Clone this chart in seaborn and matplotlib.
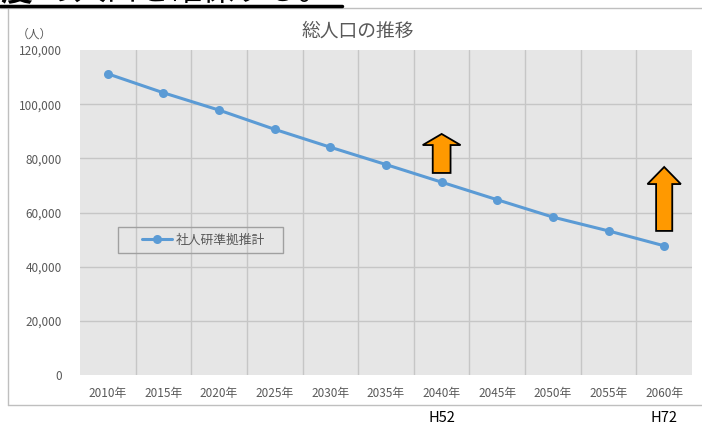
import matplotlib.pyplot as plt
import matplotlib.patches as mpatches
from matplotlib.lines import Line2D
import matplotlib.transforms as mtransforms
import pandas as pd
import seaborn as sns

# data
years = ["2010年", "2015年", "2020年", "2025年", "2030年", "2035年",
         "2040年", "2045年", "2050年", "2055年", "2060年"]
population = [111200, 104200, 97800, 90700, 84100, 77700,
              71200, 64700, 58300, 53200, 47700]
series_name = "社人研準拠推計"
y_ticks = [0, 20000, 40000, 60000, 80000, 100000, 120000]
heisei_labels = {"2040年": "H52", "2060年": "H72"}

sns.set_theme(style="white")
plt.rcParams['font.family'] = ['Noto Sans CJK JP', 'DejaVu Sans']

gray_txt = "#595959"
line_col = "#5B9BD5"

df = pd.DataFrame({"pos": range(len(years)), "year": years, "pop": population})

fig = plt.figure(figsize=(7.02, 4.25), dpi=100)
ax = fig.add_axes([80/702, 1-375/425, 612/702, 325/425])
ax.set_facecolor("#E6E6E6")

# grid lines between categories and at interior y ticks
for b in range(len(years) - 1):
    ax.axvline(b + 0.5, color="#C6C6C6", lw=1, zorder=0)
for t in y_ticks[1:-1]:
    ax.axhline(t, color="#C6C6C6", lw=1, zorder=0)

sns.lineplot(data=df, x="pos", y="pop", ax=ax, color=line_col, lw=2.2,
             marker="o", markersize=6.5, markeredgewidth=0, label=series_name,
             zorder=3)

ax.set_xlim(-0.5, len(years) - 0.5)
ax.set_ylim(0, 120000)
ax.set_xticks(range(len(years)))
ax.set_xticklabels(years)
ax.set_yticks(y_ticks)
ax.set_yticklabels([f"{v:,}" for v in y_ticks])
ax.tick_params(axis="both", length=0, labelsize=8.5, labelcolor=gray_txt)
ax.tick_params(axis="x", pad=9)
ax.tick_params(axis="y", pad=13)
ax.set_xlabel("")
ax.set_ylabel("")
for s in ax.spines.values():
    s.set_visible(False)

# legend: separate frame so the handle can sit further in
ax.add_patch(mpatches.Rectangle((38/612, 1-203/325), 165/612, 26/325,
                                transform=ax.transAxes, facecolor="none",
                                edgecolor="#A0A0A0", lw=1, zorder=4))
leg = ax.legend(loc="center left", bbox_to_anchor=(62/612, 1-190/325),
                frameon=False, fontsize=9.2, handlelength=2.35,
                handletextpad=0.3, borderpad=0, borderaxespad=0)
for txt in leg.get_texts():
    txt.set_color(gray_txt)

# orange up arrows
for xc, y0, y1, w, hw, hl in [(6, 74600, 89000, 0.32, 0.68, 4100),
                              (10, 53200, 76800, 0.29, 0.6, 6300)]:
    arr = mpatches.FancyArrow(xc, y0, 0, y1 - y0, width=w, head_width=hw,
                              head_length=hl, length_includes_head=True,
                              facecolor="#FF9900", edgecolor="black", lw=1.3,
                              zorder=5)
    ax.add_patch(arr)

# chart title and unit
fig.text(358/702, 1-31/425, "総人口の推移", ha="center", va="center",
         fontsize=13.5, color=gray_txt)
fig.text(34/702, 1-34/425, "（人）", ha="center", va="center",
         fontsize=8.5, color=gray_txt)

# H labels below the chart
trans = mtransforms.blended_transform_factory(ax.transData, fig.transFigure)
for i, y in enumerate(years):
    if y in heisei_labels:
        fig.text(i, 1-418/425, heisei_labels[y], ha="center", va="center",
                 fontsize=10.5, color="black", transform=trans)

# chart frame
fig.add_artist(Line2D([8/702, 8/702], [1-405/425, 1-8/425], color="#BFBFBF",
                      lw=1, transform=fig.transFigure))
fig.add_artist(Line2D([8/702, 1], [1-405/425, 1-405/425], color="#BFBFBF",
                      lw=1, transform=fig.transFigure))
fig.add_artist(Line2D([0, 1], [1-7.5/425, 1-7.5/425], color="#BFBFBF",
                      lw=1, transform=fig.transFigure))

# heading of the page above, cut off at the top edge as in the reference
fig.text(32/702, 1.0, "度", ha="right", va="baseline", fontsize=23,
         fontweight="bold", color="black")
fig.text(42/702, 1.0, "の人口を確保する。", ha="left", va="baseline",
         fontsize=23, color="black")
fig.add_artist(Line2D([0, 342/702], [1-6/425, 1-6/425], color="black",
                      lw=2.5, transform=fig.transFigure))

fig.savefig("out.png", dpi=100)
